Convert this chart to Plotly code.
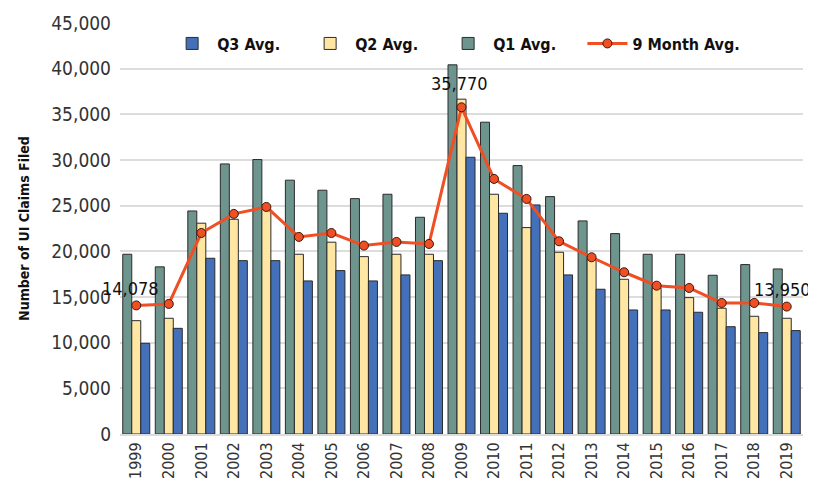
import plotly.graph_objects as go

years = [str(y) for y in range(1999, 2020)]
q1_avg = [19680, 18300, 24420, 29570, 30050, 27790, 26690, 25770, 26250, 23730, 40420,
          34140, 29390, 25990, 23330, 21940, 19680, 19680, 17380, 18550, 18070]
q2_avg = [12410, 12670, 23080, 23510, 24600, 19680, 21000, 19420, 19680, 19680, 36660,
          26250, 22600, 19900, 19060, 16940, 15960, 14930, 13770, 12890, 12670]
q3_avg = [9930, 11570, 19240, 18980, 18980, 16760, 17890, 16760, 17420, 18980, 30300,
          24170, 25080, 17420, 15850, 13580, 13580, 13330, 11750, 11100, 11320]
nine_month = [14078, 14240, 22010, 24100, 24860, 21580, 22010, 20630, 21030, 20810, 35770,
              27930, 25740, 21100, 19350, 17710, 16240, 15990, 14350, 14350, 13950]
labeled_years = ["1999", "2009", "2019"]

FONT = "DejaVu Sans Condensed, Liberation Sans Narrow, sans-serif"
edge = dict(color="#2b2b2b", width=1)

fig = go.Figure()
fig.add_trace(go.Bar(x=years, y=q1_avg, name="<b>Q1 Avg.</b>", marker=dict(color="#6E948E", line=edge), legendrank=3))
fig.add_trace(go.Bar(x=years, y=q2_avg, name="<b>Q2 Avg.</b>", marker=dict(color="#FFE6A3", line=edge), legendrank=2))
fig.add_trace(go.Bar(x=years, y=q3_avg, name="<b>Q3 Avg.</b>", marker=dict(color="#4470BA", line=edge), legendrank=1))
fig.add_trace(go.Scatter(x=years, y=nine_month, name="<b>9 Month Avg.</b>", mode="lines+markers",
                         line=dict(color="#F04E23", width=3),
                         marker=dict(size=9, color="#F04E23", line=dict(color="#3a1a10", width=1)),
                         legend="legend2"))

shifts = {"1999": (-6, 17), "2009": (-2, 24), "2019": (-4, 17)}
for yr in labeled_years:
    i = years.index(yr)
    dx, dy = shifts[yr]
    fig.add_annotation(x=i, y=nine_month[i], text=f"{nine_month[i]:,}", showarrow=False,
                       xshift=dx, yshift=dy, font=dict(size=18, color="#111", family=FONT))

legend_font = dict(size=16, family=FONT, color="#111")
fig.update_layout(
    width=816, height=479,
    margin=dict(l=112, r=21, t=15, b=53),
    paper_bgcolor="white", plot_bgcolor="white",
    barmode="group", bargap=0.17, bargroupgap=0,
    font=dict(family=FONT, color="#222"),
    showlegend=True,
    legend=dict(orientation="h", x=0.069, y=0.95, xanchor="left", yanchor="middle",
                font=legend_font, bgcolor="rgba(0,0,0,0)",
                itemwidth=40, entrywidth=83, entrywidthmode="pixels", tracegroupgap=0),
    legend2=dict(orientation="h", x=0.677, y=0.95, xanchor="left", yanchor="middle",
                 font=legend_font, bgcolor="rgba(0,0,0,0)", itemwidth=40),
)
fig.update_yaxes(range=[0, 45000], dtick=5000, tickformat=",", showgrid=True,
                 gridcolor="#DCDCDC", gridwidth=2, zeroline=False,
                 tickfont=dict(size=19, family=FONT, color="#333"), ticks="",
                 ticklabelstandoff=8,
                 title=dict(text="<b>Number of UI Claims Filed</b>", font=dict(size=14, family=FONT, color="#111"), standoff=18),
                 automargin=False)
fig.update_xaxes(type="category", range=[-0.5, len(years) - 0.5], tickangle=-90,
                 tickfont=dict(size=16, family=FONT, color="#333"),
                 showline=True, linecolor="#DCDCDC", linewidth=2, ticks="", automargin=False)

fig.write_html("out.html")
